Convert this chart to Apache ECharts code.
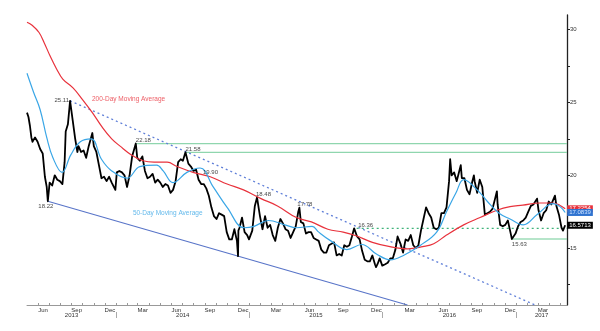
<!DOCTYPE html>
<html><head><meta charset="utf-8">
<script src="https://cdn.jsdelivr.net/npm/echarts@6/dist/echarts.min.js"></script>
<style>html,body{margin:0;padding:0;background:#fff}#c{width:600px;height:331px}</style>
</head><body><div id="c"></div>
<script>
// ---------- DATA ----------
const silverPrice = [
['2013-05-02',24.3],['2013-05-06',24.0],['2013-05-10',23.4],['2013-05-14',22.6],['2013-05-17',22.3],['2013-05-24',22.6],['2013-05-31',22.3],
['2013-06-07',21.8],['2013-06-14',21.5],['2013-06-20',19.9],['2013-06-25',19.2],['2013-06-28',18.22],['2013-07-03',19.5],['2013-07-10',19.3],
['2013-07-17',20.0],['2013-07-24',19.7],['2013-07-31',19.6],['2013-08-07',19.4],['2013-08-13',20.9],['2013-08-16',23.0],['2013-08-22',23.5],
['2013-08-28',25.11],['2013-09-04',23.8],['2013-09-11',22.5],['2013-09-17',21.6],['2013-09-20',22.0],['2013-09-27',21.6],['2013-10-04',21.7],
['2013-10-11',21.2],['2013-10-18',22.0],['2013-10-28',22.9],['2013-11-01',22.0],['2013-11-08',21.6],['2013-11-15',20.7],['2013-11-22',19.8],
['2013-11-29',19.9],['2013-12-06',19.6],['2013-12-13',19.9],['2013-12-20',19.5],['2013-12-30',19.0],
['2014-01-03',20.2],['2014-01-10',20.3],['2014-01-17',20.2],['2014-01-24',20.0],['2014-01-31',19.2],['2014-02-07',20.0],['2014-02-14',21.3],
['2014-02-24',22.18],['2014-02-28',21.2],['2014-03-07',21.0],['2014-03-14',21.3],['2014-03-21',20.3],['2014-03-28',19.8],['2014-04-04',19.9],
['2014-04-11',20.1],['2014-04-18',19.5],['2014-04-25',19.7],['2014-05-02',19.5],['2014-05-09',19.2],['2014-05-16',19.4],['2014-05-23',19.3],
['2014-05-30',18.8],['2014-06-06',19.0],['2014-06-13',19.6],['2014-06-20',20.9],['2014-06-27',21.1],['2014-07-03',21.0],['2014-07-10',21.58],
['2014-07-18',20.8],['2014-07-25',20.6],['2014-08-01',20.3],['2014-08-08',20.4],['2014-08-15',19.7],['2014-08-22',19.4],['2014-08-29',19.4],
['2014-09-05',19.1],['2014-09-12',18.6],['2014-09-19',17.8],['2014-09-26',17.2],['2014-10-03',17.0],['2014-10-10',17.4],['2014-10-17',17.3],
['2014-10-24',17.2],['2014-10-31',16.1],['2014-11-07',15.6],['2014-11-14',15.6],['2014-11-21',16.3],['2014-11-28',15.5],['2014-12-01',14.45],
['2014-12-02',16.2],['2014-12-05',16.4],['2014-12-12',17.1],['2014-12-19',16.1],['2014-12-26',15.9],['2014-12-31',15.6],
['2015-01-09',16.2],['2015-01-16',17.9],['2015-01-22',18.48],['2015-01-30',17.2],['2015-02-06',16.3],['2015-02-13',17.2],['2015-02-20',16.4],
['2015-02-27',16.6],['2015-03-06',15.9],['2015-03-13',15.5],['2015-03-20',16.4],['2015-03-27',17.0],['2015-04-03',16.7],['2015-04-10',16.3],
['2015-04-17',16.2],['2015-04-24',15.7],['2015-05-01',16.1],['2015-05-08',16.5],['2015-05-15',17.5],['2015-05-18',17.78],['2015-05-22',16.8],
['2015-05-29',16.7],['2015-06-05',16.0],['2015-06-12',16.1],['2015-06-19',16.1],['2015-06-26',15.7],['2015-07-03',15.6],['2015-07-10',15.5],
['2015-07-17',14.9],['2015-07-24',14.7],['2015-07-31',14.7],['2015-08-07',15.2],['2015-08-14',15.3],['2015-08-21',15.4],['2015-08-28',14.5],
['2015-09-04',14.6],['2015-09-11',14.5],['2015-09-18',15.2],['2015-09-25',15.1],['2015-10-02',15.2],['2015-10-09',15.8],['2015-10-15',16.36],
['2015-10-23',15.8],['2015-10-30',15.6],['2015-11-06',14.8],['2015-11-13',14.2],['2015-11-20',14.1],['2015-11-27',14.1],['2015-12-04',14.5],
['2015-12-11',13.9],['2015-12-14',13.7],['2015-12-18',13.9],['2015-12-24',14.3],['2015-12-31',13.8],
['2016-01-08',13.9],['2016-01-15',14.0],['2016-01-22',14.3],['2016-01-29',14.3],['2016-02-05',14.9],['2016-02-11',15.8],['2016-02-19',15.3],
['2016-02-26',14.7],['2016-03-04',15.6],['2016-03-11',15.5],['2016-03-18',15.9],['2016-03-25',15.2],['2016-04-01',15.0],['2016-04-08',15.2],
['2016-04-15',16.2],['2016-04-22',17.0],['2016-04-29',17.8],['2016-05-06',17.4],['2016-05-13',17.1],['2016-05-20',16.4],['2016-05-27',16.3],
['2016-06-03',16.4],['2016-06-10',17.4],['2016-06-17',17.4],['2016-06-24',17.8],['2016-07-01',19.6],['2016-07-04',21.1],['2016-07-08',20.0],
['2016-07-15',20.2],['2016-07-22',19.6],['2016-07-29',20.3],['2016-08-02',20.7],['2016-08-05',19.8],['2016-08-12',19.8],['2016-08-19',19.0],
['2016-08-26',18.7],['2016-09-02',19.5],['2016-09-07',20.0],['2016-09-09',19.6],['2016-09-16',18.8],['2016-09-23',19.7],['2016-09-30',19.2],
['2016-10-07',17.3],['2016-10-14',17.4],['2016-10-21',17.5],['2016-10-28',17.7],['2016-11-04',18.4],['2016-11-09',18.9],['2016-11-11',18.0],
['2016-11-18',16.6],['2016-11-25',16.5],['2016-12-02',16.6],['2016-12-09',16.9],['2016-12-16',16.1],['2016-12-20',15.63],['2016-12-30',16.0],
['2017-01-06',16.5],['2017-01-13',16.8],['2017-01-20',16.9],['2017-01-27',17.1],['2017-02-03',17.5],['2017-02-10',17.9],['2017-02-17',18.0],
['2017-02-27',18.4],['2017-03-03',17.6],['2017-03-10',16.9],['2017-03-17',17.4],['2017-03-24',17.6],['2017-03-31',18.2],['2017-04-07',18.0],
['2017-04-17',18.6],['2017-04-21',17.9],['2017-04-28',17.3],['2017-05-05',16.4],['2017-05-09',16.2],['2017-05-15',16.5713]
];
const ma200 = [
['2013-05-02',30.5],['2013-05-16',30.3],['2013-06-04',29.8],['2013-06-18',29.1],['2013-07-04',28.2],['2013-07-22',27.3],['2013-08-08',26.6],
['2013-09-05',26.0],['2013-10-01',25.2],['2013-10-28',24.3],['2013-11-24',23.3],['2013-12-20',22.5],['2014-01-12',22.0],['2014-02-12',21.4],
['2014-03-16',21.0],['2014-04-15',20.9],['2014-05-21',20.9],['2014-06-17',20.6],['2014-07-31',20.2],['2014-09-16',19.9],['2014-11-01',19.4],
['2014-12-16',19.0],['2015-02-02',18.4],['2015-03-19',17.9],['2015-05-10',17.1],['2015-06-20',16.8],['2015-08-04',16.3],['2015-09-15',16.1],
['2015-10-20',15.85],['2015-12-04',15.4],['2016-01-21',15.1],['2016-03-10',14.95],['2016-04-20',15.1],['2016-05-20',15.3],['2016-06-24',15.9],
['2016-08-10',16.6],['2016-09-24',17.1],['2016-11-09',17.6],['2016-12-15',17.85],['2017-01-19',17.95],['2017-03-07',18.1],['2017-04-12',18.1],
['2017-04-30',17.95],['2017-05-15',17.7]
];
const ma50 = [
['2013-05-02',27.0],['2013-05-20',25.7],['2013-06-07',24.5],['2013-06-25',22.6],['2013-07-12',21.2],['2013-08-06',20.2],['2013-08-30',21.4],
['2013-09-25',22.3],['2013-10-25',22.5],['2013-11-22',21.1],['2013-12-20',20.3],['2014-01-31',19.8],['2014-03-07',20.6],['2014-04-22',20.7],
['2014-05-10',20.3],['2014-06-06',19.5],['2014-07-14',20.2],['2014-08-19',20.5],['2014-09-24',19.2],['2014-11-01',17.8],['2014-12-18',16.4],
['2015-01-14',16.5],['2015-02-22',16.9],['2015-04-08',16.6],['2015-05-10',16.4],['2015-06-22',16.5],['2015-07-10',16.1],['2015-08-12',15.5],
['2015-09-25',14.9],['2015-11-05',15.25],['2015-12-15',14.6],['2016-01-22',14.2],['2016-02-27',14.5],['2016-04-14',15.2],['2016-05-28',16.1],
['2016-06-24',17.5],['2016-07-20',18.8],['2016-08-10',19.7],['2016-09-20',18.9],['2016-10-14',18.2],['2016-11-15',17.4],['2016-12-15',17.0],
['2017-01-20',16.6],['2017-03-01',17.35],['2017-04-12',18.05],['2017-05-01',17.85],['2017-05-15',17.45]
];
const tagTexts = { price: '16.5713', ma200: '17.2254', ma50: '17.0839' };
const resistanceLine = [['2013-08-28',25.11],['2017-02-22',11.1]];
const supportLine = [['2013-06-28',18.22],['2016-03-09',11.1]];
const levelStartDates = ['2014-02-26','2014-07-10','2015-10-22','2016-12-20'];
const levelValues = [22.18, 21.58, 16.36, 15.63];
const annDates = ['2013-08-28','2014-02-24','2014-07-10','2014-08-27','2015-01-22','2015-05-18','2015-10-15','2016-12-20','2013-06-28'];
const annValues = [25.11, 22.18, 21.58, 19.90, 18.48, 17.78, 16.36, 15.63, 18.22];
const annTexts = ['25.11','22.18','21.58','19.90','18.48','17.78','16.36','15.63','18.22'];
const maLabelTexts = ['200-Day Moving Average','50-Day Moving Average'];
const maLabelDates = ['2013-10-27','2014-02-16'];
const maLabelValues = [25.2, 17.4];
const monthNames = ['Jan','Feb','Mar','Apr','May','Jun','Jul','Aug','Sep','Oct','Nov','Dec'];
const yLabelValues = [15, 20, 25, 30];
const yTickValues = [12.5, 15, 17.5, 20, 22.5, 25, 27.5, 30];

// ---------- LAYOUT ----------
const ts = s => { const p = s.split('-'); return new Date(+p[0], +p[1]-1, +p[2]).getTime(); };
const pts = arr => arr.map(d => [ts(d[0]), d[1]]);
const xMin = ts('2013-05-02'), xMax = ts('2017-05-20');
const monthLabelPos = [], monthTickPos = [], yearStarts = [], yearCenters = [];
for (let y = 2013; y <= 2017; y++) {
  for (let m = 0; m < 12; m++) {
    const s = new Date(y,m,1).getTime();
    if (s >= xMin && s <= xMax) monthTickPos.push(s);
    if (m % 3 === 2) { const c = new Date(y,m,15).getTime(); if (c > xMin && c < xMax) monthLabelPos.push(c); }
  }
  const a = Math.max(new Date(y,0,1).getTime(), xMin), b = Math.min(new Date(y+1,0,1).getTime(), xMax);
  yearCenters.push((a+b)/2);
  if (y > 2013) yearStarts.push(new Date(y,0,1).getTime());
}

const annPlacement = [
  {position:'left', distance:1},
  {position:[0,-3], align:'left', verticalAlign:'middle'},
  {position:[0,-3], align:'left', verticalAlign:'middle'},
  {position:[0,-4], align:'left', verticalAlign:'middle'},
  {position:[-1,-3], align:'left', verticalAlign:'middle'},
  {position:[-2,-3], align:'left', verticalAlign:'middle'},
  {position:[4,-3], align:'left', verticalAlign:'middle'},
  {position:[0,5], align:'left', verticalAlign:'middle'},
  {position:[-2,5], align:'center', verticalAlign:'middle'}
];
const levelStyles = [
  {color:'#8fd6ae', type:'solid', width:1.2},
  {color:'#8fd6ae', type:'solid', width:1.2},
  {color:'#3fb37a', type:[2,3], width:1.2},
  {color:'#6fcb95', type:'solid', width:1.2}
];

const FONT = '"Liberation Sans", Arial, sans-serif';
const tag = (txt, bg, fg) => ({show:true, formatter:()=>txt, backgroundColor:bg, color:fg, fontSize:6, padding:[1,2,0,2], distance:2, fontFamily:FONT});

const chart = echarts.init(document.getElementById('c'), null, {renderer:'canvas'});
chart.setOption({
  animation:false,
  backgroundColor:'#fff',
  textStyle:{fontFamily:FONT},
  grid:{left:27, right:33, top:15, bottom:26, containLabel:false},
  xAxis:[{
    type:'value', min:xMin, max:xMax, position:'bottom',
    axisLine:{show:true, onZero:false, lineStyle:{color:'#999', width:1}},
    axisTick:{show:true, customValues:monthTickPos, inside:true, length:2, lineStyle:{color:'#999'}},
    axisLabel:{show:true, customValues:monthLabelPos, formatter:v=>monthNames[new Date(v).getMonth()], fontSize:6, color:'#333', margin:2, hideOverlap:false, showMinLabel:true, showMaxLabel:true},
    splitLine:{show:false}
  },{
    type:'value', min:xMin, max:xMax, position:'bottom', offset:7,
    axisLine:{show:false, onZero:false},
    axisTick:{show:true, customValues:yearStarts, inside:false, length:6, lineStyle:{color:'#aaa'}},
    axisLabel:{show:true, customValues:yearCenters, formatter:v=>String(new Date(v).getFullYear()), fontSize:6, color:'#333', margin:0, hideOverlap:false},
    splitLine:{show:false}
  }],
  yAxis:{
    type:'value', position:'right', min:11.1, max:31,
    axisLine:{show:true, onZero:false, lineStyle:{color:'#222', width:1.3}},
    axisTick:{show:true, customValues:yTickValues, length:3, lineStyle:{color:'#222'}},
    axisLabel:{show:true, customValues:yLabelValues, fontSize:6, color:'#333', margin:3},
    splitLine:{show:false}
  },
  series:[
    ...levelValues.map((v,i)=>({
      type:'line', data:[[ts(levelStartDates[i]), v],[xMax, v]], symbol:'none', silent:true,
      lineStyle:levelStyles[i], z:1
    })),
    {type:'line', data:pts(resistanceLine), symbol:'none', silent:true, clip:true,
     lineStyle:{color:'#5f7fd8', width:1.3, type:[2,3]}, z:2},
    {type:'line', data:pts(supportLine), symbol:'none', silent:true, clip:true,
     lineStyle:{color:'#5874c8', width:1.1}, z:2},
    {type:'line', name:'price', data:pts(silverPrice), symbol:'none', silent:true,
     lineStyle:{color:'#000', width:1.8, join:'round'}, z:3, endLabel:tag(tagTexts.price,'#000','#fff')},
    {type:'line', name:'ma200', data:pts(ma200), symbol:'none', smooth:0.4, silent:true,
     lineStyle:{color:'#e8323c', width:1.2}, z:4, endLabel:tag(tagTexts.ma200,'#e8323c','#fff')},
    {type:'line', name:'ma50', data:pts(ma50), symbol:'none', smooth:0.4, silent:true,
     lineStyle:{color:'#3aa6e6', width:1.2}, z:4, endLabel:tag(tagTexts.ma50,'#2f73d0','#cfe3ff')},
    {type:'scatter', symbolSize:0, silent:true, z:6,
     data:annDates.map((d,i)=>({value:[ts(d), annValues[i]], label:Object.assign({show:true, formatter:annTexts[i], fontSize:6, color:'#111'}, annPlacement[i])}))},
    {type:'scatter', symbolSize:0, silent:true, z:6,
     data:maLabelDates.map((d,i)=>({value:[ts(d), maLabelValues[i]], label:{show:true, formatter:maLabelTexts[i], position:[0,0], align:'left', verticalAlign:'middle', fontSize:6.5, color:i===0?'#e8323c':'#3aa6e6'}}))}
  ]
});
</script></body></html>
